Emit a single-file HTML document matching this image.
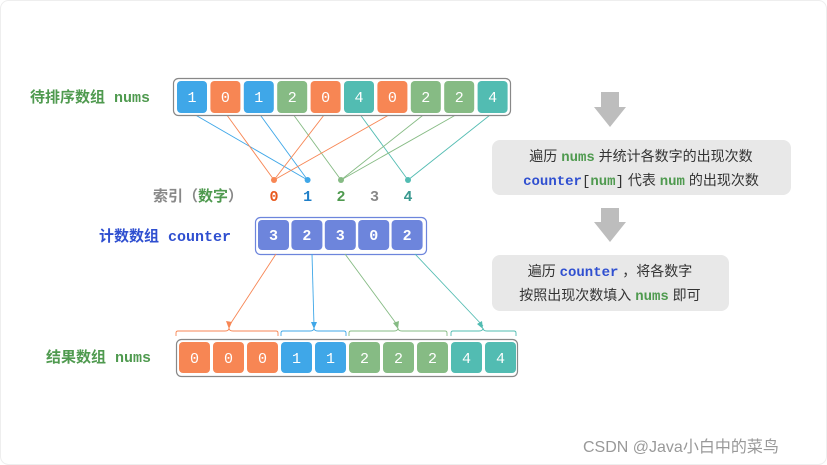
<!DOCTYPE html>
<html><head><meta charset="utf-8"><style>
html,body{margin:0;padding:0;background:#fff;}
svg{display:block;}
text{font-family:"Liberation Mono","Noto Sans CJK SC",monospace;}
.c{font-family:"Liberation Sans","Noto Sans CJK SC",sans-serif;}
</style></head><body>
<svg width="827" height="465" viewBox="0 0 827 465" xmlns="http://www.w3.org/2000/svg">
<rect x="0.5" y="0.5" width="826" height="464" rx="8" fill="#fff" stroke="#eee"/>
<!-- lines top -->
<g stroke-width="0.9" fill="none">
<line x1="192" y1="113" x2="307.6" y2="180" stroke="#3fa7e8"/>
<line x1="225.4" y1="113" x2="274" y2="180" stroke="#f78654"/>
<line x1="258.8" y1="113" x2="307.6" y2="180" stroke="#3fa7e8"/>
<line x1="292.2" y1="113" x2="341" y2="180" stroke="#86bb84"/>
<line x1="325.6" y1="113" x2="274" y2="180" stroke="#f78654"/>
<line x1="359" y1="113" x2="408" y2="180" stroke="#52bcb2"/>
<line x1="392.4" y1="113" x2="274" y2="180" stroke="#f78654"/>
<line x1="425.8" y1="113" x2="341" y2="180" stroke="#86bb84"/>
<line x1="459.2" y1="113" x2="341" y2="180" stroke="#86bb84"/>
<line x1="492.6" y1="113" x2="408" y2="180" stroke="#52bcb2"/>
</g>
<circle cx="274" cy="180" r="3" fill="#f78654"/>
<circle cx="307.6" cy="180" r="3" fill="#3fa7e8"/>
<circle cx="341" cy="180" r="3" fill="#86bb84"/>
<circle cx="408" cy="180" r="3" fill="#52bcb2"/>
<!-- top array -->
<rect x="173.5" y="78.5" width="337" height="37" rx="5" fill="#fff" stroke="#888" stroke-width="1.2"/>
<g font-size="15" fill="#fff" text-anchor="middle">
<rect x="177" y="81" width="30" height="32" rx="4" fill="#3fa7e8"/><text x="192" y="102">1</text>
<rect x="210.4" y="81" width="30" height="32" rx="4" fill="#f78654"/><text x="225.4" y="102">0</text>
<rect x="243.8" y="81" width="30" height="32" rx="4" fill="#3fa7e8"/><text x="258.8" y="102">1</text>
<rect x="277.2" y="81" width="30" height="32" rx="4" fill="#86bb84"/><text x="292.2" y="102">2</text>
<rect x="310.6" y="81" width="30" height="32" rx="4" fill="#f78654"/><text x="325.6" y="102">0</text>
<rect x="344" y="81" width="30" height="32" rx="4" fill="#52bcb2"/><text x="359" y="102">4</text>
<rect x="377.4" y="81" width="30" height="32" rx="4" fill="#f78654"/><text x="392.4" y="102">0</text>
<rect x="410.8" y="81" width="30" height="32" rx="4" fill="#86bb84"/><text x="425.8" y="102">2</text>
<rect x="444.2" y="81" width="30" height="32" rx="4" fill="#86bb84"/><text x="459.2" y="102">2</text>
<rect x="477.6" y="81" width="30" height="32" rx="4" fill="#52bcb2"/><text x="492.6" y="102">4</text>
</g>
<text x="30" y="102" font-size="15" font-weight="bold" fill="#4f9a4f">待排序数组 nums</text>
<!-- index -->
<text x="153" y="201" font-size="15" font-weight="bold" fill="#888">索引（<tspan fill="#4f9a4f">数字</tspan>）</text>
<g font-size="15" font-weight="bold" text-anchor="middle">
<text x="274" y="201" fill="#e8591e">0</text>
<text x="307.6" y="201" fill="#1f7fc8">1</text>
<text x="341" y="201" fill="#4f9a4f">2</text>
<text x="374.5" y="201" fill="#888">3</text>
<text x="408" y="201" fill="#3a9990">4</text>
</g>
<!-- counter -->
<text x="99" y="241" font-size="15" font-weight="bold" fill="#2f4fd0">计数数组 counter</text>
<rect x="255.5" y="217.5" width="171" height="37" rx="5" fill="#fff" stroke="#6d85dc" stroke-width="1.2"/>
<g font-size="15" fill="#fff" text-anchor="middle" font-weight="bold">
<rect x="258" y="220" width="31" height="30" rx="4" fill="#6d85dc"/><text x="273.5" y="240">3</text>
<rect x="291.4" y="220" width="31" height="30" rx="4" fill="#6d85dc"/><text x="306.9" y="240">2</text>
<rect x="324.8" y="220" width="31" height="30" rx="4" fill="#6d85dc"/><text x="340.3" y="240">3</text>
<rect x="358.2" y="220" width="31" height="30" rx="4" fill="#6d85dc"/><text x="373.7" y="240">0</text>
<rect x="391.6" y="220" width="31" height="30" rx="4" fill="#6d85dc"/><text x="407.1" y="240">2</text>
</g>
<!-- arrows to result -->
<g stroke-width="0.9" fill="none">
<line x1="276" y1="254" x2="229" y2="326" stroke="#f78654"/>
<line x1="312" y1="254" x2="314" y2="326" stroke="#3fa7e8"/>
<line x1="345" y1="254" x2="398" y2="326" stroke="#86bb84"/>
<line x1="415" y1="254" x2="483" y2="326" stroke="#52bcb2"/>
</g>
<polygon points="229,329 226,321 232,322" fill="#f78654"/>
<polygon points="314,329 311,322 317,322" fill="#3fa7e8"/>
<polygon points="398,329 393,323 399,321" fill="#86bb84"/>
<polygon points="483,329 477,324 482,321" fill="#52bcb2"/>
<!-- braces -->
<g fill="none" stroke-width="0.9">
<path d="M176,336 v-3 q0,-2 2,-2 h47 q4,0 4,-3 q0,3 4,3 h43 q2,0 2,2 v3" stroke="#f78654"/>
<path d="M281,336 v-3 q0,-2 2,-2 h27 q4,0 4,-3 q0,3 4,3 h26 q2,0 2,2 v3" stroke="#3fa7e8"/>
<path d="M349,336 v-3 q0,-2 2,-2 h43 q4,0 4,-3 q0,3 4,3 h43 q2,0 2,2 v3" stroke="#86bb84"/>
<path d="M451,336 v-3 q0,-2 2,-2 h26 q4,0 4,-3 q0,3 4,3 h27 q2,0 2,2 v3" stroke="#52bcb2"/>
</g>
<!-- result -->
<text x="46" y="362" font-size="15" font-weight="bold" fill="#4f9a4f">结果数组 nums</text>
<rect x="176.5" y="339.5" width="341" height="37" rx="5" fill="#fff" stroke="#888" stroke-width="1.2"/>
<g font-size="15" fill="#fff" text-anchor="middle">
<rect x="179" y="342" width="31" height="31" rx="4" fill="#f78654"/><text x="194.5" y="363">0</text>
<rect x="213" y="342" width="31" height="31" rx="4" fill="#f78654"/><text x="228.5" y="363">0</text>
<rect x="247" y="342" width="31" height="31" rx="4" fill="#f78654"/><text x="262.5" y="363">0</text>
<rect x="281" y="342" width="31" height="31" rx="4" fill="#3fa7e8"/><text x="296.5" y="363">1</text>
<rect x="315" y="342" width="31" height="31" rx="4" fill="#3fa7e8"/><text x="330.5" y="363">1</text>
<rect x="349" y="342" width="31" height="31" rx="4" fill="#86bb84"/><text x="364.5" y="363">2</text>
<rect x="383" y="342" width="31" height="31" rx="4" fill="#86bb84"/><text x="398.5" y="363">2</text>
<rect x="417" y="342" width="31" height="31" rx="4" fill="#86bb84"/><text x="432.5" y="363">2</text>
<rect x="451" y="342" width="31" height="31" rx="4" fill="#52bcb2"/><text x="466.5" y="363">4</text>
<rect x="485" y="342" width="31" height="31" rx="4" fill="#52bcb2"/><text x="500.5" y="363">4</text>
</g>
<!-- right side -->
<polygon points="601,92 619,92 619,107 626,107 610,127 594,107 601,107" fill="#bdbdbd"/>
<rect x="492" y="140" width="299" height="55" rx="8" fill="#e8e8e8"/>
<text x="641" y="161" font-size="14" text-anchor="middle" class="c" fill="#333">遍历 <tspan font-family="Liberation Mono" font-weight="bold" fill="#4f9a4f">nums</tspan> 并统计各数字的出现次数</text>
<text x="641" y="185" font-size="14" text-anchor="middle" class="c" fill="#333"><tspan font-family="Liberation Mono" font-weight="bold" fill="#2f4fd0">counter</tspan><tspan font-family="Liberation Mono">[</tspan><tspan font-family="Liberation Mono" font-weight="bold" fill="#4f9a4f">num</tspan><tspan font-family="Liberation Mono">]</tspan> 代表 <tspan font-family="Liberation Mono" font-weight="bold" fill="#4f9a4f">num</tspan> 的出现次数</text>
<polygon points="601,208 619,208 619,222 626,222 610,242 594,222 601,222" fill="#bdbdbd"/>
<rect x="492" y="255" width="237" height="56" rx="8" fill="#e8e8e8"/>
<text x="610" y="276" font-size="14" text-anchor="middle" class="c" fill="#333">遍历 <tspan font-family="Liberation Mono" font-weight="bold" fill="#2f4fd0">counter</tspan> ，将各数字</text>
<text x="610" y="300" font-size="14" text-anchor="middle" class="c" fill="#333">按照出现次数填入 <tspan font-family="Liberation Mono" font-weight="bold" fill="#4f9a4f">nums</tspan> 即可</text>
<text x="583" y="452" font-size="16" class="c" fill="#999">CSDN @Java小白中的菜鸟</text>
</svg>
</body></html>
